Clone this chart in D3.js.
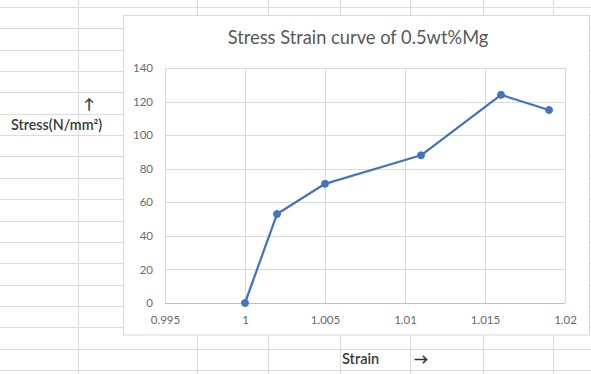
<!DOCTYPE html>
<html>
<head>
<meta charset="utf-8">
<script src="https://cdn.jsdelivr.net/npm/d3@7/dist/d3.min.js"></script>
<style>
  html, body { margin: 0; padding: 0; background: #fff; }
  svg { display: block; }
  text { font-family: Lato, "Open Sans", "Liberation Sans", sans-serif; }
</style>
</head>
<body>
<script>
// Stress–strain readings for the 0.5wt%Mg sample
const strain = [1.000, 1.002, 1.005, 1.011, 1.016, 1.019];
const stress = [0, 53, 71, 88, 124, 115];

// Axis ticks
const xTicks = [0.995, 1, 1.005, 1.01, 1.015, 1.02];
const yTicks = [0, 20, 40, 60, 80, 100, 120, 140];

const title = "Stress Strain curve of 0.5wt%Mg";
const yLabel = "Stress(N/mm\u00B2)";
const xLabel = "Strain";

// Worksheet cell borders behind the chart
const sheetCols = [78, 197, 268, 340, 410, 483, 553];
const sheetRows = d3.range(7, 374, 21.35);

const W = 591, H = 374;
const svg = d3.select("body").append("svg").attr("width", W).attr("height", H);

// worksheet grid
const sheet = svg.append("g").attr("stroke", "#dcdcdc").attr("stroke-width", 1);
sheet.selectAll("line.r").data(sheetRows).join("line")
  .attr("x1", 0).attr("x2", W)
  .attr("y1", d => Math.round(d) + 0.5).attr("y2", d => Math.round(d) + 0.5);
sheet.selectAll("line.c").data(sheetCols).join("line")
  .attr("x1", d => d + 0.5).attr("x2", d => d + 0.5)
  .attr("y1", 0).attr("y2", H);

// labels typed into worksheet cells
const arrowFont = "'DejaVu Sans', sans-serif";
svg.append("text").attr("x", 89).attr("y", 109).attr("text-anchor", "middle")
  .attr("font-family", arrowFont).attr("font-size", 14).attr("fill", "#333")
  .attr("stroke", "#333").attr("stroke-width", 0.4).text("\u2191");
svg.append("text").attr("x", 11).attr("y", 130)
  .attr("font-size", 14.3).attr("font-weight", 600).attr("fill", "#3a3a3a").text(yLabel);
svg.append("text").attr("x", 342).attr("y", 364)
  .attr("font-size", 14.5).attr("font-weight", 600).attr("fill", "#3a3a3a").text(xLabel);
svg.append("text").attr("x", 414).attr("y", 364)
  .attr("font-family", arrowFont).attr("font-size", 14).attr("fill", "#333")
  .attr("stroke", "#333").attr("stroke-width", 0.4).text("\u2192");

// chart area
svg.append("rect").attr("x", 123.5).attr("y", 15.5).attr("width", 466).attr("height", 319.5)
  .attr("fill", "#fff").attr("stroke", "#d9d9d9");

svg.append("text").attr("x", 358).attr("y", 44).attr("text-anchor", "middle")
  .attr("font-size", 18.3).attr("fill", "#595959").text(title);

const x = d3.scaleLinear().domain([0.995, 1.02]).range([165, 565]);
const y = d3.scaleLinear().domain([0, 140]).range([303, 68]);

// gridlines
const grid = svg.append("g").attr("stroke", "#d9d9d9").attr("stroke-width", 1);
grid.selectAll("line.h").data(yTicks.slice(1)).join("line")
  .attr("x1", x(0.995)).attr("x2", x(1.02))
  .attr("y1", d => Math.round(y(d)) + 0.5).attr("y2", d => Math.round(y(d)) + 0.5);
grid.selectAll("line.v").data(xTicks).join("line")
  .attr("x1", d => Math.round(x(d)) + 0.5).attr("x2", d => Math.round(x(d)) + 0.5)
  .attr("y1", y(140)).attr("y2", y(0));

// axes
const yAxis = svg.append("g").attr("transform", `translate(${x(0.995)},0)`)
  .call(d3.axisLeft(y).tickValues(yTicks).tickSize(0).tickPadding(12).tickFormat(d3.format("d")));
const xAxis = svg.append("g").attr("transform", `translate(0,${y(0)})`)
  .call(d3.axisBottom(x).tickValues(xTicks).tickSize(0).tickPadding(13).tickFormat(d => String(+d.toFixed(3))));
[yAxis, xAxis].forEach(a => {
  a.select(".domain").remove();
  a.selectAll("text").attr("fill", "#6a6a6a").attr("font-size", 11.5)
    .attr("font-family", "Lato, 'Open Sans', sans-serif");
});
svg.append("line").attr("x1", x(0.995)).attr("x2", x(1.02))
  .attr("y1", Math.round(y(0)) + 0.5).attr("y2", Math.round(y(0)) + 0.5)
  .attr("stroke", "#bfbfbf");

// series
const pts = strain.map((s, i) => [s, stress[i]]);
svg.append("path").datum(pts)
  .attr("fill", "none").attr("stroke", "#4472c4").attr("stroke-width", 2.25)
  .attr("stroke-linejoin", "round")
  .attr("d", d3.line().x(d => x(d[0])).y(d => y(d[1])));
svg.selectAll("circle.pt").data(pts).join("circle")
  .attr("cx", d => x(d[0])).attr("cy", d => y(d[1])).attr("r", 3.5)
  .attr("fill", "#4472c4").attr("stroke", "#4472c4");
</script>
</body>
</html>
